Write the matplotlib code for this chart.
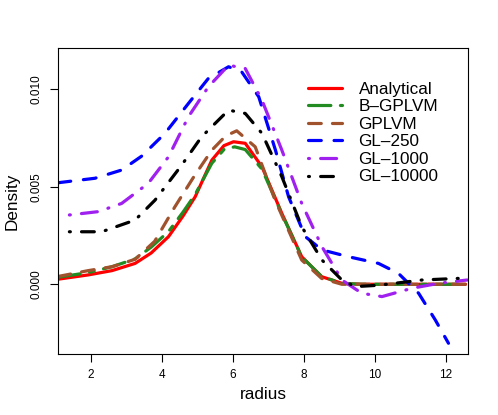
import matplotlib
matplotlib.use("Agg")
import matplotlib.pyplot as plt

plt.rcParams['font.family'] = ['Liberation Sans', 'DejaVu Sans']

# curves (radius, density)
analytical_x = [1.08, 1.93, 2.6, 3.25, 3.7, 4.19, 4.6, 4.94, 5.41, 5.75, 6.02, 6.35, 6.82, 7.38, 7.94, 8.5, 9.07, 9.6, 10.5, 11.5, 12.55]
analytical_y = [0.00026, 0.00048, 0.0007, 0.00107, 0.0016, 0.00244, 0.0035, 0.00448, 0.00636, 0.0071, 0.0073, 0.00722, 0.00602, 0.00363, 0.00141, 0.00039, 0.00005, 0.0, 0.0, 0.0, 0.0]

bgplvm_x = [1.08, 1.93, 2.6, 3.25, 3.7, 4.19, 4.6, 4.94, 5.41, 5.75, 6.05, 6.35, 6.82, 7.38, 7.94, 8.5, 9.07, 9.6, 10.5, 11.5, 12.55]
bgplvm_y = [0.00036, 0.0006, 0.0009, 0.0013, 0.0019, 0.0027, 0.0037, 0.0046, 0.0062, 0.0069, 0.00704, 0.0069, 0.0059, 0.0036, 0.0014, 0.0004, 0.00005, 0.0, 0.0, 0.0, 0.0]

gplvm_x = [1.08, 1.93, 2.6, 3.25, 3.8, 4.37, 4.9, 5.41, 5.8, 6.11, 6.63, 7.19, 7.94, 8.5, 9.07, 9.6, 10.5, 11.5, 12.55]
gplvm_y = [0.0004, 0.0007, 0.0009, 0.00128, 0.0022, 0.00397, 0.0055, 0.00687, 0.0076, 0.00786, 0.00704, 0.00431, 0.00124, 0.0003, 0.0, 0.0, 0.0, 0.0, 0.0]

gl250_x = [1.08, 2.12, 2.87, 3.44, 4.09, 4.75, 5.31, 5.88, 6.25, 6.73, 7.2, 7.57, 8.04, 8.51, 9.26, 10.1, 10.66, 11.23, 11.7, 12.07]
gl250_y = [0.0052, 0.00543, 0.00585, 0.00657, 0.00773, 0.00926, 0.01054, 0.01114, 0.01088, 0.0096, 0.00687, 0.00448, 0.00244, 0.00176, 0.00141, 0.00107, 0.00056, -0.00046, -0.00183, -0.00302]

gl1000_x = [1.4, 2.21, 2.87, 3.62, 4.19, 4.75, 5.31, 5.88, 6.35, 6.82, 7.38, 7.94, 8.51, 9.07, 9.63, 10.2, 11.05, 11.8, 12.6]
gl1000_y = [0.00355, 0.00372, 0.00414, 0.00517, 0.00653, 0.00858, 0.01011, 0.01122, 0.01105, 0.00943, 0.00687, 0.00414, 0.00192, 0.00022, -0.00046, -0.00063, -0.0002, 0.00005, 0.00022]

gl10000_x = [1.4, 2.31, 3.25, 3.81, 4.56, 5.12, 5.88, 6.35, 6.82, 7.38, 7.94, 8.51, 9.07, 9.44, 10.1, 11.33, 12.45]
gl10000_y = [0.00269, 0.00269, 0.00329, 0.00431, 0.0061, 0.00755, 0.00892, 0.00875, 0.00773, 0.00551, 0.00295, 0.00124, 0.00022, -0.00012, -0.00005, 0.00022, 0.00031]

labels = ["Analytical", "B\u2013GPLVM", "GPLVM", "GL\u2013250", "GL\u20131000", "GL\u201310000"]
colors = ["#ff0000", "#228b22", "#a0522d", "#0000ff", "#a020f0", "#000000"]
dashes = [None, (7, 3, 1.5, 3), (4, 3.5), (4, 4), (0.3, 3.5, 5, 3.5), (0.3, 3.5, 4, 3.5)]

xs = [analytical_x, bgplvm_x, gplvm_x, gl250_x, gl1000_x, gl10000_x]
ys = [analytical_y, bgplvm_y, gplvm_y, gl250_y, gl1000_y, gl10000_y]

fig = plt.figure(figsize=(4.98, 4.15), dpi=100)
ax = fig.add_axes([0.1165, 0.147, 0.8233, 0.7373])

for x, y, lab, c, d in zip(xs, ys, labels, colors, dashes):
    if d is None:
        ax.plot(x, y, color=c, lw=2.3, label=lab, solid_capstyle='round')
    else:
        ax.plot(x, y, color=c, lw=2.3, label=lab, dashes=d, dash_capstyle='round')

ax.set_xlim(1.08, 12.62)
ax.set_ylim(-0.00357, 0.0121)
ax.set_xticks([2, 4, 6, 8, 10, 12])
ax.set_yticks([0.0, 0.005, 0.010])
ax.set_yticklabels(["0.000", "0.005", "0.010"], rotation=90, va='center')
ax.tick_params(labelsize=8.5, length=6, width=0.8, pad=5)
for s in ax.spines.values():
    s.set_linewidth(0.8)

ax.set_xlabel("radius", fontsize=12.3, labelpad=4)
ax.set_ylabel("Density", fontsize=12.3, labelpad=8)

ax.legend(loc='upper left', bbox_to_anchor=(0.61, 0.89), frameon=False,
          fontsize=12.3, handlelength=2.0, handletextpad=0.95, labelspacing=0.15,
          borderpad=0, borderaxespad=0)

fig.savefig("out.png", dpi=100)
